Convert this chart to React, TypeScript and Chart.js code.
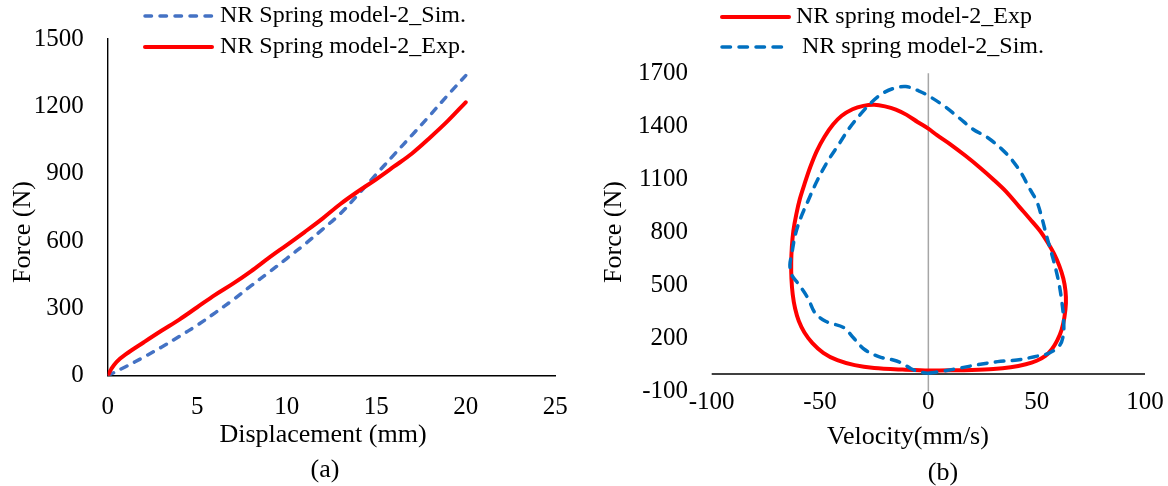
import { useEffect, useRef } from "react";
import { Chart, registerables } from "chart.js";

Chart.register(...registerables);

// ---------- (a) Force vs displacement ----------
const dispSim = [0, 1, 2, 3, 4, 5, 6, 7, 8, 9, 10, 11, 12, 13, 14, 15, 16, 17, 18, 19, 20];
const forceSim = [0, 40, 82, 127, 175, 225, 280, 338, 400, 460, 522, 585, 652, 722, 808, 897, 985, 1072, 1160, 1250, 1337];
const dispExp = [0, 0.2, 0.5, 1, 2, 3, 4, 5, 6, 7, 8, 9, 10, 11, 12, 13, 14, 15, 16, 17, 18, 19, 20];
const forceExp = [0, 30, 62, 95, 148, 200, 250, 305, 360, 410, 465, 525, 582, 640, 700, 765, 822, 875, 932, 990, 1060, 1135, 1218];
const ticksDisp = [0, 5, 10, 15, 20, 25];
const ticksForceA = [0, 300, 600, 900, 1200, 1500];

// ---------- (b) Force vs velocity loops ----------
const velExp = [0, 10, 20, 30, 38, 45, 50, 54, 57, 59.5, 61.5, 62.8, 63.5, 63.3, 62.3, 60.5, 58, 55, 51.5, 47, 42, 36, 30, 24, 17, 10, 4, 0, -5, -10, -15, -20, -25, -30, -35, -40, -44, -48, -51.5, -54.5, -57, -59.3, -61, -62.3, -63, -63.3, -63.2, -62.6, -61.5, -59.8, -57.2, -53.5, -48.5, -42, -34, -25, -12, 0];
const forceExpB = [20, 21, 23, 28, 38, 55, 75, 102, 140, 190, 250, 320, 400, 470, 540, 610, 680, 745, 810, 875, 945, 1030, 1100, 1165, 1235, 1300, 1350, 1387, 1425, 1465, 1495, 1513, 1522, 1516, 1497, 1460, 1410, 1340, 1260, 1170, 1080, 990, 900, 810, 720, 630, 540, 450, 370, 300, 235, 175, 120, 78, 50, 34, 25, 20];
const velSim = [0, 7, 15.6, 24, 32, 41, 49, 55.5, 60.5, 62.3, 62.4, 61.6, 60.4, 58.7, 56.6, 54.4, 52.4, 50, 46.5, 43.2, 39, 34, 27.3, 20.6, 14, 7.2, 0, -4.5, -10.4, -16.2, -21.3, -26.3, -31.3, -36.3, -41.3, -46.4, -51.4, -55.6, -58.9, -61.4, -63.1, -63.9, -63.1, -59.7, -55.6, -52.2, -47.2, -39, -34.6, -29.6, -22.9, -16.2, -12, -8, -4, 0];
const forceSimB = [4, 17, 36, 55, 70, 79, 98, 117, 160, 221, 316, 410, 505, 599, 694, 788, 883, 977, 1053, 1129, 1204, 1270, 1337, 1384, 1450, 1516, 1573, 1601, 1625, 1614, 1585, 1535, 1469, 1393, 1299, 1204, 1091, 977, 883, 788, 675, 618, 561, 505, 429, 344, 297, 262, 205, 140, 98, 79, 60, 30, 12, 4];
const ticksVel = [-100, -50, 0, 50, 100];
const ticksForceB = [-100, 200, 500, 800, 1100, 1400, 1700];

const FONT = '"Liberation Serif", "Times New Roman", serif';
const RED = "#FF0000";
const BLUE_A = "#4472C4";
const BLUE_B = "#0070C0";

const W = 584;
const H = 486;

const pts = (xs: number[], ys: number[]) => xs.map((x, i) => ({ x, y: ys[i] }));

type LegendRow = { label: string; color: string; dash: number[]; width: number; x1: number; x2: number; tx: number; y: number };
type TextItem = { text: string; x: number; y: number; rotate?: boolean; size: number };

type PanelSpec = {
  datasets: any[];
  xMin: number; xMax: number; xTicks: number[];
  yMin: number; yMax: number; yTicks: number[];
  yWidth: number; xHeight: number;
  padding: { left: number; right: number; top: number; bottom: number };
  yPad: number; xPad: number;
  border: boolean;
  crossLines: boolean;
  legend: LegendRow[];
  texts: TextItem[];
};

const decorPlugin = {
  id: "decor",
  beforeDatasetsDraw(chart: any, _args: any, opts: any) {
    if (!opts.crossLines) return;
    const { ctx, chartArea, scales } = chart;
    ctx.save();
    // vertical reference at zero velocity
    const x0 = scales.x.getPixelForValue(0);
    ctx.strokeStyle = "#A6A6A6";
    ctx.lineWidth = 1.5;
    ctx.beginPath();
    ctx.moveTo(x0, chartArea.top);
    ctx.lineTo(x0, chartArea.bottom);
    ctx.stroke();
    // horizontal axis at zero force
    const y0 = scales.y.getPixelForValue(0);
    ctx.strokeStyle = "#000";
    ctx.lineWidth = 1.5;
    ctx.beginPath();
    ctx.moveTo(chartArea.left, y0);
    ctx.lineTo(chartArea.right, y0);
    ctx.stroke();
    ctx.restore();
  },
  afterDraw(chart: any, _args: any, opts: any) {
    const { ctx } = chart;
    ctx.save();
    (opts.legend as LegendRow[]).forEach((r) => {
      ctx.strokeStyle = r.color;
      ctx.lineWidth = r.width;
      ctx.lineCap = "round";
      ctx.setLineDash(r.dash);
      ctx.beginPath();
      ctx.moveTo(r.x1, r.y);
      ctx.lineTo(r.x2, r.y);
      ctx.stroke();
      ctx.setLineDash([]);
      ctx.fillStyle = "#000";
      ctx.font = `24px ${FONT}`;
      ctx.textAlign = "left";
      ctx.textBaseline = "middle";
      ctx.fillText(r.label, r.tx, r.y);
    });
    (opts.texts as TextItem[]).forEach((t) => {
      ctx.save();
      ctx.fillStyle = "#000";
      ctx.font = `${t.size}px ${FONT}`;
      ctx.textAlign = "center";
      ctx.textBaseline = "middle";
      ctx.translate(t.x, t.y);
      if (t.rotate) ctx.rotate(-Math.PI / 2);
      ctx.fillText(t.text, 0, 0);
      ctx.restore();
    });
    ctx.restore();
  },
};

function makeConfig(spec: PanelSpec): any {
  const tickFont = { family: FONT, size: 25 };
  const plain = (v: number | string) => String(v);
  return {
    type: "scatter",
    data: { datasets: spec.datasets },
    plugins: [decorPlugin],
    options: {
      animation: false,
      responsive: false,
      events: [],
      layout: { padding: spec.padding },
      plugins: {
        legend: { display: false },
        tooltip: { enabled: false },
        decor: { legend: spec.legend, texts: spec.texts, crossLines: spec.crossLines },
      },
      scales: {
        x: {
          type: "linear",
          min: spec.xMin,
          max: spec.xMax,
          afterBuildTicks: (s: any) => { s.ticks = spec.xTicks.map((v) => ({ value: v })); },
          afterFit: (s: any) => { s.height = spec.xHeight; },
          grid: { display: false, drawTicks: false },
          border: { display: spec.border, color: "#000", width: 1.4 },
          ticks: { font: tickFont, color: "#000", padding: spec.xPad, autoSkip: false, maxRotation: 0, callback: plain },
        },
        y: {
          type: "linear",
          min: spec.yMin,
          max: spec.yMax,
          afterBuildTicks: (s: any) => { s.ticks = spec.yTicks.map((v) => ({ value: v })); },
          afterFit: (s: any) => { s.width = spec.yWidth; },
          grid: { display: false, drawTicks: false },
          border: { display: spec.border, color: "#000", width: 1.4 },
          ticks: { font: tickFont, color: "#000", padding: spec.yPad, autoSkip: false, callback: plain },
        },
      },
    },
  };
}

const lineBase = { showLine: true, pointRadius: 0, fill: false, borderJoinStyle: "round" };

const panelA: PanelSpec = {
  datasets: [
    {
      ...lineBase,
      label: "NR Spring model-2_Sim.",
      data: pts(dispSim, forceSim),
      borderColor: BLUE_A,
      borderWidth: 3.5,
      borderDash: [6.5, 8.5],
      borderCapStyle: "round",
      tension: 0.35,
      order: 1,
    },
    {
      ...lineBase,
      label: "NR Spring model-2_Exp.",
      data: pts(dispExp, forceExp),
      borderColor: RED,
      borderWidth: 4,
      borderCapStyle: "round",
      tension: 0.35,
      order: 0,
    },
  ],
  xMin: 0, xMax: 25, xTicks: ticksDisp,
  yMin: 0, yMax: 1500, yTicks: ticksForceA,
  yWidth: 107.7, xHeight: 110.3,
  padding: { left: 0, right: 21.5, top: 26, bottom: 0 },
  yPad: 24, xPad: 16.3,
  border: true,
  crossLines: false,
  legend: [
    { label: "NR Spring model-2_Sim.", color: BLUE_A, dash: [6.5, 8.5], width: 3.5, x1: 145, x2: 212, tx: 220, y: 16 },
    { label: "NR Spring model-2_Exp.", color: RED, dash: [], width: 4, x1: 145, x2: 212, tx: 220, y: 47 },
  ],
  texts: [
    { text: "Force (N)", x: 23, y: 232, rotate: true, size: 26 },
    { text: "Displacement (mm)", x: 323, y: 435, size: 26 },
    { text: "(a)", x: 325, y: 470, size: 26 },
  ],
};

const panelB: PanelSpec = {
  datasets: [
    {
      ...lineBase,
      label: "NR spring model-2_Exp",
      data: pts(velExp, forceExpB),
      borderColor: RED,
      borderWidth: 4,
      borderCapStyle: "round",
      tension: 0.3,
      order: 1,
    },
    {
      ...lineBase,
      label: "NR spring model-2_Sim.",
      data: pts(velSim, forceSimB),
      borderColor: BLUE_B,
      borderWidth: 3.5,
      borderDash: [8.5, 8.5],
      borderCapStyle: "round",
      tension: 0.35,
      order: 0,
    },
  ],
  xMin: -100, xMax: 100, xTicks: ticksVel,
  yMin: -100, yMax: 1700, yTicks: ticksForceB,
  yWidth: 127.7, xHeight: 94.3,
  padding: { left: 0, right: 23, top: 73.3, bottom: 0 },
  yPad: 23.7, xPad: -4.2,
  border: false,
  crossLines: true,
  legend: [
    { label: "NR spring model-2_Exp", color: RED, dash: [], width: 4, x1: 138, x2: 205, tx: 212, y: 17 },
    { label: "NR spring model-2_Sim.", color: BLUE_B, dash: [8.5, 8.5], width: 3.5, x1: 138, x2: 205, tx: 218, y: 47 },
  ],
  texts: [
    { text: "Force (N)", x: 30, y: 232, rotate: true, size: 26 },
    { text: "Velocity(mm/s)", x: 324, y: 437, size: 26 },
    { text: "(b)", x: 359, y: 473, size: 26 },
  ],
};

function Panel({ spec, left }: { spec: PanelSpec; left: number }) {
  const ref = useRef<HTMLCanvasElement | null>(null);
  useEffect(() => {
    if (!ref.current) return;
    const chart = new Chart(ref.current, makeConfig(spec));
    return () => chart.destroy();
  }, [spec]);
  return (
    <canvas
      ref={ref}
      width={W}
      height={H}
      style={{ position: "absolute", left, top: 0, width: W, height: H, display: "block" }}
    />
  );
}

export default function App() {
  return (
    <div style={{ position: "fixed", left: 0, top: 0, width: 1168, height: 486, background: "#fff" }}>
      <Panel spec={panelA} left={0} />
      <Panel spec={panelB} left={584} />
    </div>
  );
}
